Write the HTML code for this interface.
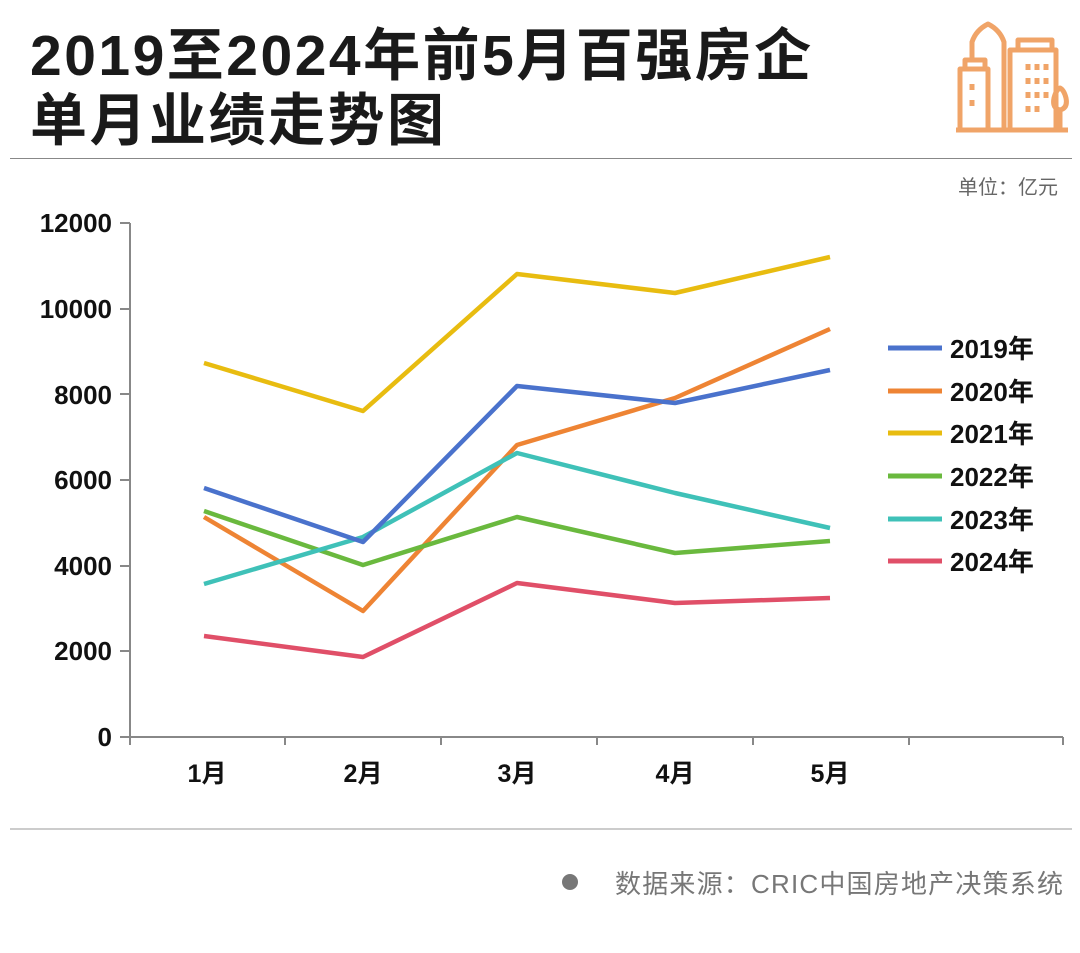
<!DOCTYPE html>
<html><head><meta charset="utf-8"><style>
html,body{margin:0;padding:0;background:#fff;}
body{width:1080px;height:953px;position:relative;overflow:hidden;font-family:"Liberation Sans","Noto Sans CJK SC",sans-serif;}
.t{position:absolute;left:30px;font-weight:bold;font-size:57px;color:#1a1a1a;letter-spacing:2.5px;line-height:64px;white-space:nowrap;}
</style></head><body>
<div class="t" style="top:24px">2019至2024年前5月百强房企</div>
<div class="t" style="top:89px">单月业绩走势图</div>
<div style="position:absolute;left:10px;top:158px;width:1062px;height:1px;background:#888"></div>
<div style="position:absolute;left:958px;top:171px;font-size:20px;color:#666">单位：亿元</div>
<svg style="position:absolute;left:940px;top:10px" width="140" height="130" viewBox="0 0 140 130" fill="none" stroke="#f0a468" stroke-width="5" stroke-linejoin="round">
<path d="M16 120h112"/><path d="M20 120V59h28v61"/><path d="M25 59V50h20v9"/><path d="M32 50V32q4-12 16-18q12 6 16 18v88"/><path d="M70 120V40h46v80"/><path d="M78 40V30h34v10"/>
<path d="M32 74v6M32 90v6M88 54v6M97 54v6M106 54v6M88 68v6M97 68v6M106 68v6M88 82v6M97 82v6M106 82v6M88 96v6M97 96v6"/>
<path d="M120 120V100M120 100q-8-2-6-12q2-8 6-10q4 2 6 10q2 10-6 12"/>
</svg>
<svg style="position:absolute;left:0;top:0" width="1080" height="953">
<g font-family="Liberation Sans, Noto Sans CJK SC, sans-serif" font-weight="bold" font-size="26" fill="#111" text-anchor="end">
<text x="112" y="232">12000</text><text x="112" y="318">10000</text><text x="112" y="404">8000</text><text x="112" y="489">6000</text><text x="112" y="575">4000</text><text x="112" y="660">2000</text><text x="112" y="746">0</text>
</g>
<g stroke="#888" stroke-width="2">
<line x1="130" y1="223" x2="130" y2="745"/><line x1="120" y1="737" x2="1063" y2="737"/>
<line x1="120" y1="223" x2="130" y2="223"/><line x1="120" y1="309" x2="130" y2="309"/><line x1="120" y1="394" x2="130" y2="394"/><line x1="120" y1="480" x2="130" y2="480"/><line x1="120" y1="566" x2="130" y2="566"/><line x1="120" y1="651" x2="130" y2="651"/>
<line x1="285" y1="737" x2="285" y2="745"/><line x1="441" y1="737" x2="441" y2="745"/><line x1="597" y1="737" x2="597" y2="745"/><line x1="753" y1="737" x2="753" y2="745"/><line x1="909" y1="737" x2="909" y2="745"/><line x1="1063" y1="737" x2="1063" y2="745"/>
</g>
<g font-family="Liberation Sans, Noto Sans CJK SC, sans-serif" font-weight="bold" font-size="25" fill="#111" text-anchor="middle">
<text x="207" y="782">1月</text><text x="363" y="782">2月</text><text x="517" y="782">3月</text><text x="675" y="782">4月</text><text x="830" y="782">5月</text>
</g>
<g fill="none" stroke-width="4.5" stroke-linejoin="round">
<polyline stroke="#e8bc10" points="204,363 363,411 517,274 675,293 830,257"/>
<polyline stroke="#ee8434" points="204,517 363,611 517,445 675,398 830,329"/>
<polyline stroke="#6ab93e" points="204,511 363,565 517,517 675,553 830,541"/>
<polyline stroke="#3fc1b8" points="204,584 363,537 517,453 675,493 830,528"/>
<polyline stroke="#4a72cc" points="204,488 363,542 517,386 675,403 830,370"/>
<polyline stroke="#e04f68" points="204,636 363,657 517,583 675,603 830,598"/>
</g>
<g stroke-width="5">
<line x1="888" y1="348" x2="942" y2="348" stroke="#4a72cc"/>
<line x1="888" y1="391" x2="942" y2="391" stroke="#ee8434"/>
<line x1="888" y1="433" x2="942" y2="433" stroke="#e8bc10"/>
<line x1="888" y1="476" x2="942" y2="476" stroke="#6ab93e"/>
<line x1="888" y1="519" x2="942" y2="519" stroke="#3fc1b8"/>
<line x1="888" y1="561" x2="942" y2="561" stroke="#e04f68"/>
</g>
<g font-family="Liberation Sans, Noto Sans CJK SC, sans-serif" font-weight="bold" font-size="26" fill="#111">
<text x="950" y="358">2019年</text><text x="950" y="401">2020年</text><text x="950" y="443">2021年</text><text x="950" y="486">2022年</text><text x="950" y="529">2023年</text><text x="950" y="571">2024年</text>
</g>
<line x1="10" y1="829" x2="1072" y2="829" stroke="#999" stroke-width="1"/>
<circle cx="570" cy="882" r="8" fill="#777"/>
<text x="615" y="893" font-family="Liberation Sans, Noto Sans CJK SC, sans-serif" font-size="26" letter-spacing="1.2" fill="#777">数据来源：CRIC中国房地产决策系统</text>
</svg>
</body></html>
